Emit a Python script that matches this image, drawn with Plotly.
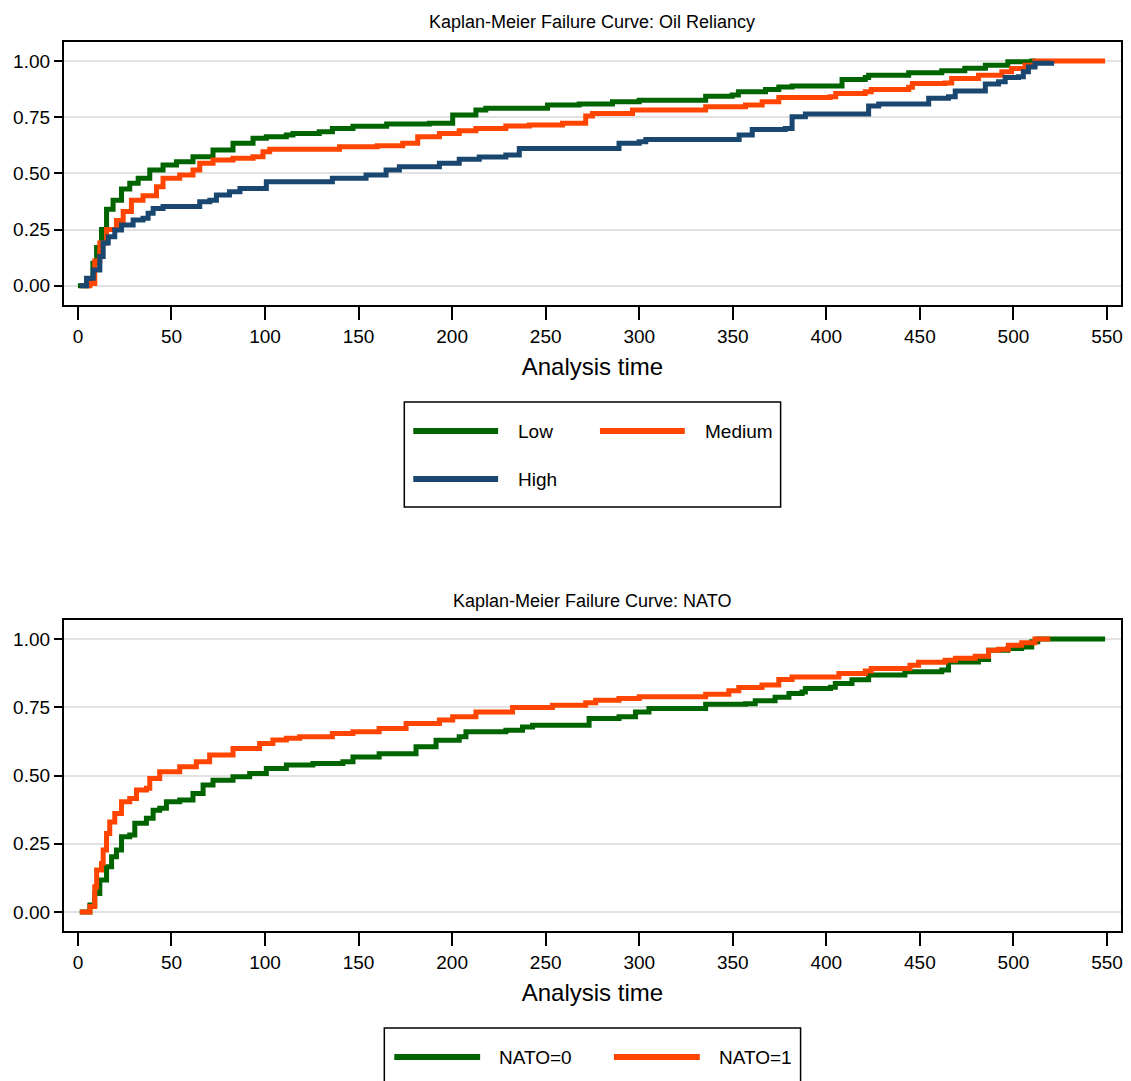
import plotly.graph_objects as go

# ---------------- data ----------------
low_t = [0, 5, 8, 10, 12.6, 15.3, 18.8, 23.3, 27.7, 32.2, 38.4, 45.5, 52.7, 61.5, 72.2, 82.9, 93.6,
         100.7, 111.4, 114.9, 129, 136, 147, 165, 187.8, 200.3, 212.7, 218, 251, 267.9, 285.7, 300,
         335.5, 349.7, 353, 367.5, 374.6, 381.7, 408.4, 420.8, 422.6, 444, 461.7, 474, 485, 497, 509.8, 512]
low_f = [0, 0.03, 0.10, 0.17, 0.25, 0.34, 0.38, 0.43, 0.456, 0.478, 0.515, 0.537, 0.552, 0.574, 0.604,
         0.634, 0.656, 0.663, 0.671, 0.678, 0.685, 0.70, 0.71, 0.72, 0.723, 0.76, 0.782, 0.79, 0.805,
         0.809, 0.819, 0.826, 0.844, 0.849, 0.863, 0.874, 0.885, 0.889, 0.918, 0.927, 0.937, 0.948,
         0.957, 0.968, 0.982, 0.997, 1.0, 1.0]

med_t = [2, 6.4, 9, 11.7, 15.3, 20.6, 24.2, 28.6, 34.8, 42, 45.5, 54.4, 61.5, 65.1, 72.2, 82.9, 93.6,
         98.9, 102.5, 139.8, 160, 173.6, 181.6, 193.2, 203.8, 212.7, 228.7, 241.2, 259, 271.4, 275,
         296.4, 335.5, 356.8, 365.7, 374.6, 402, 405, 420.8, 424, 444, 446, 463.5, 467, 481.3, 493.8,
         499, 506.2, 511.5, 549]
med_f = [0, 0.01, 0.11, 0.19, 0.25, 0.29, 0.33, 0.38, 0.40, 0.44, 0.478, 0.493, 0.515, 0.545, 0.56,
         0.567, 0.574, 0.596, 0.608, 0.619, 0.623, 0.634, 0.663, 0.678, 0.69, 0.70, 0.711, 0.715,
         0.723, 0.755, 0.767, 0.782, 0.797, 0.804, 0.819, 0.838, 0.841, 0.856, 0.863, 0.874, 0.883,
         0.90, 0.903, 0.922, 0.937, 0.952, 0.967, 0.982, 1.0, 1.0]

high_t = [1, 4.6, 8.2, 11.7, 13.5, 16.2, 19.7, 23.3, 29.5, 34.8, 37.5, 40.2, 45.5, 65.1, 70.5, 74, 81,
          86.6, 100.7, 136, 154, 164.7, 171.8, 193.2, 203.8, 214.5, 228.7, 235.9, 289.2, 300, 303.5,
          353.4, 360.4, 378, 381.7, 388.8, 422.6, 428, 454.7, 465.3, 468.9, 485, 492, 495.6, 502.7,
          505.3, 508, 511.5, 520.4]
high_f = [0, 0.033, 0.07, 0.13, 0.19, 0.218, 0.248, 0.27, 0.292, 0.30, 0.322, 0.344, 0.353, 0.374,
          0.38, 0.404, 0.418, 0.433, 0.463, 0.478, 0.493, 0.515, 0.53, 0.545, 0.563, 0.573, 0.582,
          0.611, 0.634, 0.641, 0.651, 0.671, 0.695, 0.70, 0.752, 0.764, 0.80, 0.809, 0.834, 0.841,
          0.867, 0.898, 0.908, 0.927, 0.93, 0.952, 0.974, 0.99, 1.0]

nato0_t = [1, 6.4, 9, 11.7, 15.3, 18, 20.6, 23.3, 27.7, 30.4, 36.6, 40.2, 43.7, 47.3, 54.4, 61.5, 66.9,
           72.2, 82.9, 91.8, 100.7, 111.4, 125.6, 141.6, 147, 161, 180.7, 191.4, 203.8, 207.4, 228.7,
           237.6, 243, 273.2, 289.2, 298, 305.2, 335.5, 356.8, 362, 372.6, 380, 387, 388.8, 402.2,
           404.8, 413.7, 422.6, 442, 461.7, 465.3, 481.3, 486.7, 497, 504.4, 509.8, 513, 549]
nato0_f = [0, 0.026, 0.068, 0.117, 0.166, 0.202, 0.227, 0.276, 0.282, 0.325, 0.343, 0.373, 0.38, 0.404,
           0.41, 0.434, 0.465, 0.483, 0.495, 0.507, 0.526, 0.538, 0.544, 0.55, 0.568, 0.58, 0.605,
           0.629, 0.642, 0.66, 0.666, 0.678, 0.684, 0.709, 0.715, 0.733, 0.745, 0.761, 0.763, 0.774,
           0.787, 0.80, 0.806, 0.819, 0.823, 0.837, 0.851, 0.868, 0.88, 0.886, 0.916, 0.925, 0.959,
           0.965, 0.971, 0.99, 1.0, 1.0]

nato1_t = [1, 6.4, 9, 10, 12.6, 13.5, 15.3, 17, 19.7, 23.3, 27.7, 31.3, 36.6, 38.4, 43.7, 54.4, 63.3,
           70.4, 82.9, 97.1, 104.2, 111.4, 118.5, 136, 147, 161, 175.4, 193.2, 200.3, 212.7, 232.3,
           253.6, 271.4, 276.7, 289.2, 300, 335.5, 347.9, 353.2, 365.6, 374.6, 381.7, 406.7, 420.8,
           424, 444.7, 449.3, 463.5, 469, 479.6, 486.7, 492, 497.3, 504.4, 511.5, 519.6]
nato1_f = [0, 0.02, 0.093, 0.154, 0.178, 0.227, 0.288, 0.33, 0.361, 0.404, 0.416, 0.447, 0.453, 0.489,
           0.514, 0.532, 0.55, 0.575, 0.599, 0.617, 0.63, 0.636, 0.642, 0.654, 0.66, 0.672, 0.69,
           0.703, 0.715, 0.733, 0.749, 0.757, 0.766, 0.776, 0.782, 0.788, 0.798, 0.81, 0.822, 0.831,
           0.852, 0.861, 0.874, 0.883, 0.892, 0.904, 0.915, 0.922, 0.929, 0.937, 0.959, 0.962, 0.977,
           0.986, 1.0, 1.0]

x_ticks = [0, 50, 100, 150, 200, 250, 300, 350, 400, 450, 500, 550]
y_ticks = [0, 0.25, 0.5, 0.75, 1.0]
y_tick_text = ["0.00", "0.25", "0.50", "0.75", "1.00"]

title_top = "Kaplan-Meier Failure Curve: Oil Reliancy"
title_bot = "Kaplan-Meier Failure Curve: NATO"
x_title = "Analysis time"
legend_top = ["Low", "Medium", "High"]
legend_bot = ["NATO=0", "NATO=1"]

# ---------------- styles ----------------
GREEN = "#006400"
ORANGE = "#FF4500"
NAVY = "#1A476F"
FONT = "Liberation Sans, Arial, Helvetica, sans-serif"
W, H = 1131, 1081
LW = 5


def px(x):
    return x / W


def py(y):
    return 1 - y / H


fig = go.Figure()

fig.add_trace(go.Scatter(x=low_t, y=low_f, mode="lines", line=dict(color=GREEN, width=LW, shape="hv"),
                         name=legend_top[0], xaxis="x", yaxis="y", showlegend=False))
fig.add_trace(go.Scatter(x=med_t, y=med_f, mode="lines", line=dict(color=ORANGE, width=LW, shape="hv"),
                         name=legend_top[1], xaxis="x", yaxis="y", showlegend=False))
fig.add_trace(go.Scatter(x=high_t, y=high_f, mode="lines", line=dict(color=NAVY, width=LW, shape="hv"),
                         name=legend_top[2], xaxis="x", yaxis="y", showlegend=False))
fig.add_trace(go.Scatter(x=nato0_t, y=nato0_f, mode="lines", line=dict(color=GREEN, width=LW, shape="hv"),
                         name=legend_bot[0], xaxis="x2", yaxis="y2", showlegend=False))
fig.add_trace(go.Scatter(x=nato1_t, y=nato1_f, mode="lines", line=dict(color=ORANGE, width=LW, shape="hv"),
                         name=legend_bot[1], xaxis="x2", yaxis="y2", showlegend=False))

xdom = [px(64), px(1123)]
xcommon = dict(range=[-7.5, 557.5], tickmode="array", tickvals=x_ticks, ticks="outside", ticklen=13,
               tickwidth=1.5, tickcolor="black", showgrid=False, zeroline=False, showline=True,
               linecolor="black", linewidth=2, mirror=True,
               tickfont=dict(family=FONT, size=19, color="black"),
               title=dict(text=x_title, font=dict(family=FONT, size=24, color="black"), standoff=12),
               domain=xdom)
ycommon = dict(tickmode="array", tickvals=y_ticks, ticktext=y_tick_text, ticks="outside", ticklen=8,
               tickwidth=1.5, tickcolor="black", showgrid=True, gridcolor="#e2e2e2", gridwidth=2,
               zeroline=False, showline=True, linecolor="black", linewidth=2, mirror=True,
               tickfont=dict(family=FONT, size=19, color="black"))

fig.update_layout(
    width=W, height=H, margin=dict(l=0, r=0, t=0, b=0),
    paper_bgcolor="white", plot_bgcolor="white", showlegend=False,
    xaxis=dict(xcommon, anchor="y"),
    yaxis=dict(ycommon, range=[-0.086, 1.085], domain=[py(305), py(42)], anchor="x"),
    xaxis2=dict(xcommon, anchor="y2"),
    yaxis2=dict(ycommon, range=[-0.0695, 1.0695], domain=[py(931), py(620)], anchor="x2"),
)

annotations = [
    dict(text=title_top, x=px(593), y=py(22), xref="paper", yref="paper", showarrow=False,
         xanchor="center", yanchor="middle", font=dict(family=FONT, size=18, color="black")),
    dict(text=title_bot, x=px(593), y=py(601), xref="paper", yref="paper", showarrow=False,
         xanchor="center", yanchor="middle", font=dict(family=FONT, size=18, color="black")),
]
shapes = []

# top legend box
shapes.append(dict(type="rect", xref="paper", yref="paper", x0=px(405), x1=px(782), y0=py(507), y1=py(402),
                   line=dict(color="black", width=1.5), fillcolor="white", layer="above"))
top_items = [(legend_top[0], GREEN, 414, 431), (legend_top[1], ORANGE, 601, 431), (legend_top[2], NAVY, 414, 479)]
for label, col, x0, yy in top_items:
    shapes.append(dict(type="line", xref="paper", yref="paper", x0=px(x0), x1=px(x0 + 85), y0=py(yy), y1=py(yy),
                       line=dict(color=col, width=6)))
    annotations.append(dict(text=label, x=px(x0 + 103), y=py(yy), xref="paper", yref="paper", showarrow=False,
                            xanchor="left", yanchor="middle", font=dict(family=FONT, size=19, color="black")))

# bottom legend box
shapes.append(dict(type="rect", xref="paper", yref="paper", x0=px(385), x1=px(802), y0=py(1095), y1=py(1028),
                   line=dict(color="black", width=1.5), fillcolor="white", layer="above"))
bot_items = [(legend_bot[0], GREEN, 395, 1057), (legend_bot[1], ORANGE, 615, 1057)]
for label, col, x0, yy in bot_items:
    shapes.append(dict(type="line", xref="paper", yref="paper", x0=px(x0), x1=px(x0 + 86), y0=py(yy), y1=py(yy),
                       line=dict(color=col, width=6)))
    annotations.append(dict(text=label, x=px(x0 + 103), y=py(yy), xref="paper", yref="paper", showarrow=False,
                            xanchor="left", yanchor="middle", font=dict(family=FONT, size=19, color="black")))

fig.update_layout(annotations=annotations, shapes=shapes)
fig.write_html("out.html")
